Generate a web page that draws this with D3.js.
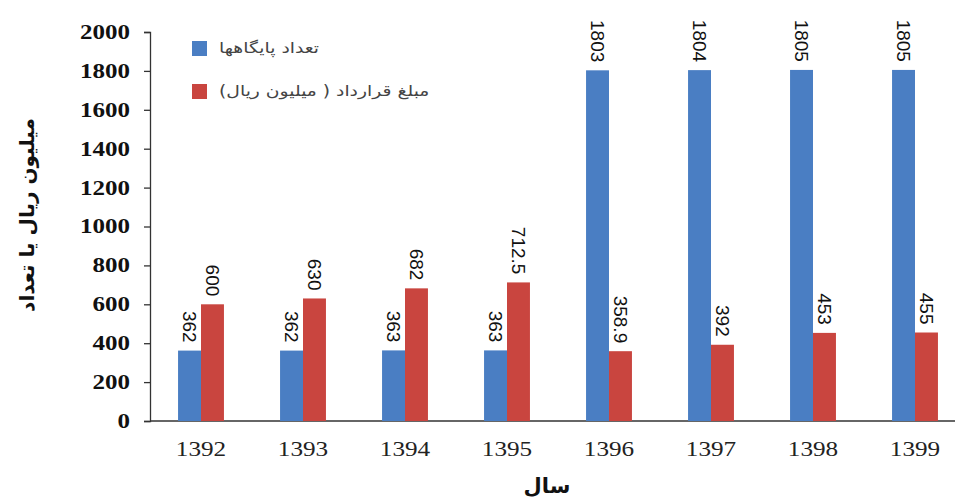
<!DOCTYPE html>
<html><head><meta charset="utf-8">
<script src="https://cdn.jsdelivr.net/npm/d3@7"></script>
<style>body{margin:0;background:#fff}svg{display:block}</style>
</head><body>
<svg id="c" width="955" height="498"></svg>
<script>
const years = ["1392","1393","1394","1395","1396","1397","1398","1399"];
const stations = [362,362,363,363,1803,1804,1805,1805];
const contracts = [600,630,682,712.5,358.9,392,453,455];
const stationLabels = ["362","362","363","363","1803","1804","1805","1805"];
const contractLabels = ["600","630","682","712.5","358.9","392","453","455"];
const seriesNames = ["تعداد پایگاهها","مبلغ قرارداد ( میلیون ریال)"];
const yTicks = [0,200,400,600,800,1000,1200,1400,1600,1800,2000];
const colors = ["#4a7ec3","#c9453f"];

const svg = d3.select("#c");
const x0 = d3.scaleBand().domain(years).range([150,966]).paddingInner(0.55).paddingOuter(0.275);
const x1 = d3.scaleBand().domain([0,1]).range([0,x0.bandwidth()]);
const y = d3.scaleLinear().domain([0,2000]).range([421,32]);

// y axis
const ya = svg.append("g").attr("transform","translate(150,0)")
  .call(d3.axisLeft(y).tickValues(yTicks).tickSize(6).tickFormat(d3.format("d")));
ya.select(".domain").attr("stroke","#333").attr("stroke-width",1.3);
ya.selectAll(".tick line").attr("stroke","#333").attr("stroke-width",1.3);
ya.selectAll("text").attr("x",-16).attr("transform","scale(1.25,1)")
  .attr("font-family","Liberation Serif").attr("font-weight","bold").attr("font-size",20).attr("fill","#111");

// x axis
const xa = svg.append("g").attr("transform","translate(0,421)")
  .call(d3.axisBottom(x0).tickSize(0).tickPadding(20));
xa.select(".domain").remove();
svg.append("line").attr("x1",150).attr("x2",955).attr("y1",421).attr("y2",421).attr("stroke","#333").attr("stroke-width",1.6);
xa.selectAll(".tick text").attr("font-family","Liberation Serif").attr("font-size",21).attr("fill","#222");
xa.selectAll(".tick").each(function(d){
  const tx = x0(d)+x0.bandwidth()/2;
  d3.select(this).attr("transform",`translate(${tx},0) scale(1.2,1)`);
});

const series = [stations, contracts];
const labels = [stationLabels, contractLabels];
series.forEach((vals,si)=>{
  const g = svg.append("g");
  g.selectAll("rect").data(vals).join("rect")
    .attr("x",(d,i)=>x0(years[i])+x1(si))
    .attr("y",d=>y(d))
    .attr("width",x1.bandwidth())
    .attr("height",d=>y(0)-y(d))
    .attr("fill",colors[si]);
  g.selectAll("text").data(vals).join("text")
    .attr("transform",(d,i)=>`translate(${x0(years[i])+x1(si)+x1.bandwidth()/2},${y(d)-8}) rotate(90)`)
    .attr("text-anchor","end").attr("dy","0.35em")
    .attr("font-family","Liberation Sans").attr("font-size",19).attr("fill","#111")
    .text((d,i)=>labels[si][i]);
});

// legend
const leg = svg.append("g");
seriesNames.forEach((n,i)=>{
  leg.append("rect").attr("x",192).attr("y",41+i*43).attr("width",15).attr("height",15).attr("fill",colors[i]);
  leg.append("text").attr("transform",`translate(219,${48+i*43}) scale(1.25,1)`).attr("dy","0.35em")
    .attr("direction","rtl").attr("text-anchor","end")
    .attr("font-family","DejaVu Sans").attr("font-size",15).attr("fill","#444").text(n);
});

// axis titles
svg.append("text").attr("transform","translate(27,215) rotate(-90)").attr("text-anchor","middle").attr("dy","0.35em")
  .attr("font-family","DejaVu Sans").attr("font-weight","bold").attr("font-size",20).attr("fill","#111")
  .text("میلیون ریال یا تعداد");
svg.append("text").attr("x",547).attr("y",486).attr("text-anchor","middle").attr("dy","0.35em")
  .attr("font-family","DejaVu Sans").attr("font-weight","bold").attr("font-size",21).attr("fill","#111")
  .text("سال");
</script>
</body></html>
